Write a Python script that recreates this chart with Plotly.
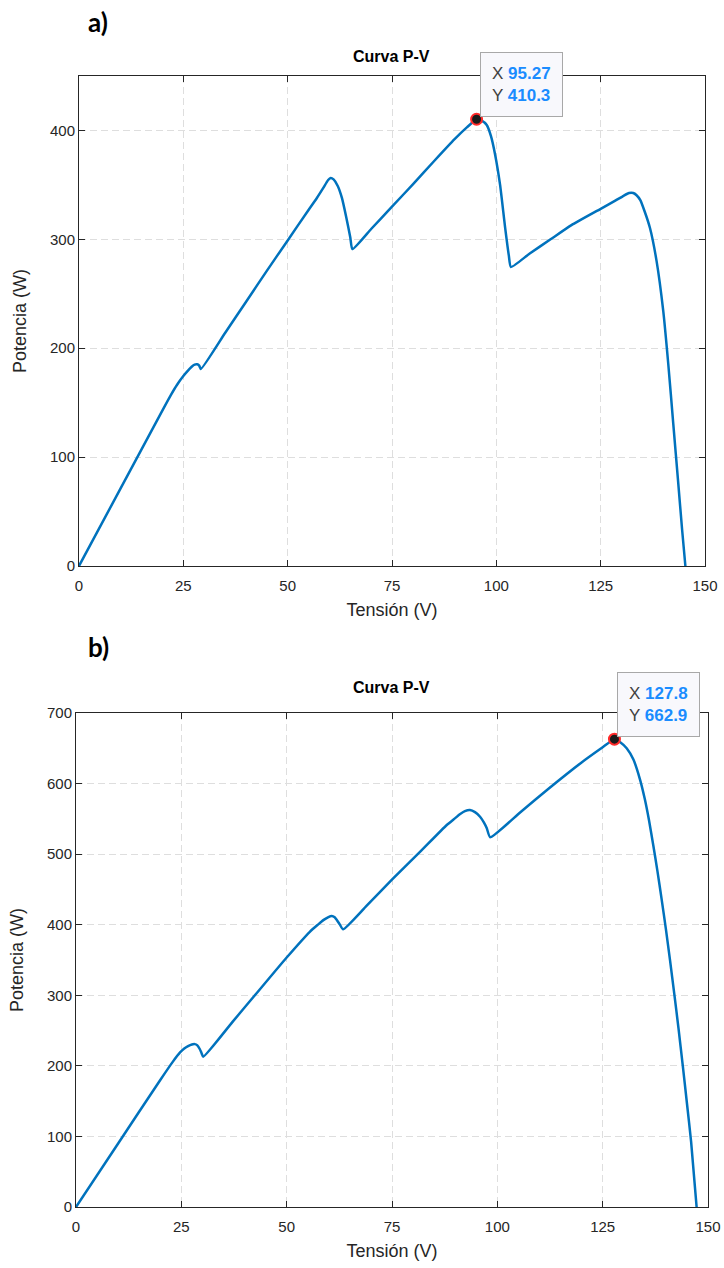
import plotly.graph_objects as go

# ---------------- data ----------------
volt_a = [0, 10, 20, 22, 23.5, 25, 26, 27, 27.7, 28.3, 28.8, 29.2,
          35, 40, 45, 50, 55, 57, 58.5, 59.7, 60.3, 61.0, 62.0, 63.0, 64.0, 65.0, 65.5,
          70, 75, 80, 85, 90, 93, 95.27,
          96.5, 97.7, 98.7, 99.7, 100.9, 102.1, 103.0, 103.5,
          108, 113, 118, 125, 128.5, 130.5, 131.8, 132.8, 133.6, 134.5, 135.5, 136.8,
          138.4, 140.0, 141.2, 142.4, 143.6, 144.5, 145.3]
pow_a = [0, 71.5, 143, 157, 166.5, 174.5, 179, 183, 185, 185.3, 184, 181,
         214, 242.5, 271, 299, 327, 338, 347, 354.5, 356.3, 355, 349, 338, 321, 302, 291,
         309.5, 330, 350.5, 371.5, 392, 403, 410.3,
         409, 405, 395, 378, 350, 311, 285, 274.6,
         287, 300, 313, 328, 335.5, 340, 342.5, 342.5, 340.5, 336, 326, 310.6,
         280, 234, 185.5, 130.6, 75.7, 34, 0]

volt_b = [0, 10, 20, 23, 24.7, 25.7, 26.6, 27.5, 28.2, 28.8, 29.4, 29.8, 30.2,
          37.3, 42.1, 50.0, 55.5, 57.5, 58.7, 59.8, 60.7, 61.4, 61.9, 62.6, 63.4,
          69.0, 75.1, 81.7, 88.0, 90.0, 91.1, 92.3, 93.5, 94.7, 95.9, 96.8, 97.5, 98.3,
          105.4, 112, 120, 125, 127.8, 129.1, 130.7, 132.3, 133.9, 135.0, 136.0, 137.0,
          138.0, 139.0, 140.0, 141.0, 142.0, 143.0, 144.0, 145.0, 146.0, 147.3]
pow_b = [0, 90, 180, 206, 219, 224.5, 228, 230.3, 230.8, 229, 223.5, 218, 213,
         263.4, 297.5, 353.6, 390, 400.5, 406.5, 410.5, 412.4, 410.5, 406.7, 400.5, 393.5,
         427, 464.5, 503.5, 541.3, 551, 556.5, 561, 562.6, 559.5, 553, 545, 536.6, 523.9,
         559, 592, 630, 651.5, 662.9, 659, 650, 634, 605, 578, 548, 513,
         476, 436, 394, 349, 302, 253, 201, 147, 92, 0]

tip_x = [95.27, 127.8]
tip_y = [410.3, 662.9]
tip_xlabel = ["95.27", "127.8"]
tip_ylabel = ["410.3", "662.9"]

x_ticks = [0, 25, 50, 75, 100, 125, 150]
y_ticks_a = [0, 100, 200, 300, 400]
y_ticks_b = [0, 100, 200, 300, 400, 500, 600, 700]

panel_labels = ["a)", "b)"]
title_text = "Curva P-V"
x_title = "Tensión (V)"
y_title = "Potencia (W)"

# ---------------- layout helpers ----------------
W, H = 724, 1268
FONT = "Liberation Sans Narrow, Arial Narrow, Liberation Sans, Arial, sans-serif"
INK = "#262626"
LINE = "#0072BD"


def fx(p):
    return p / W


def fy(p):
    return 1 - p / H


fig = go.Figure()

for vx, py_, xa, ya, i in [(volt_a, pow_a, "x", "y", 0), (volt_b, pow_b, "x2", "y2", 1)]:
    fig.add_trace(go.Scatter(x=vx, y=py_, mode="lines",
                             line=dict(color=LINE, width=2.5, shape="spline", smoothing=0.5),
                             xaxis=xa, yaxis=ya, hoverinfo="skip"))
    fig.add_trace(go.Scatter(x=[tip_x[i]], y=[tip_y[i]], mode="markers",
                             marker=dict(size=11, color="#1a1a1a",
                                         line=dict(color="#ff2a2a", width=2)),
                             xaxis=xa, yaxis=ya, hoverinfo="skip"))


def axis_style(**kw):
    d = dict(showline=True, linecolor=INK, linewidth=1, mirror="ticks",
             ticks="inside", ticklen=6, tickcolor=INK, tickwidth=1,
             showgrid=True, gridcolor="#dedede", griddash="7px,4px", gridwidth=1,
             zeroline=False, automargin=False,
             tickfont=dict(family=FONT, size=15, color=INK),
             title_font=dict(family=FONT, size=18, color=INK))
    d.update(kw)
    return d


fig.update_layout(
    width=W, height=H,
    margin=dict(l=0, r=0, t=0, b=0),
    paper_bgcolor="white", plot_bgcolor="white",
    showlegend=False,
    xaxis=axis_style(domain=[fx(79), fx(705)], range=[0, 150], tickvals=x_ticks,
                     anchor="y", ticklabelstandoff=6, title=dict(text=x_title, standoff=10)),
    yaxis=axis_style(domain=[fy(566), fy(76)], range=[0, 450], tickvals=y_ticks_a,
                     anchor="x", title=dict(text=y_title, standoff=18)),
    xaxis2=axis_style(domain=[fx(76), fx(708)], range=[0, 150], tickvals=x_ticks,
                      anchor="y2", ticklabelstandoff=6, title=dict(text=x_title, standoff=10)),
    yaxis2=axis_style(domain=[fy(1207), fy(713)], range=[0, 700], tickvals=y_ticks_b,
                      anchor="x2", title=dict(text=y_title, standoff=18)),
)

annotations = []
# panel labels
for lab, ypx in zip(panel_labels, [22, 647]):
    annotations.append(dict(text="<b>" + lab + "</b>", x=fx(86), y=fy(ypx),
                            xref="paper", yref="paper", xanchor="left", yanchor="middle",
                            showarrow=False,
                            font=dict(family="Lato, Liberation Sans, sans-serif", size=26, color="black")))
# titles
for xc, ypx in zip([(79 + 705) / 2, (76 + 708) / 2], [57, 687]):
    annotations.append(dict(text="<b>" + title_text + "</b>", x=fx(xc), y=fy(ypx),
                            xref="paper", yref="paper", xanchor="center", yanchor="middle",
                            showarrow=False, font=dict(family=FONT, size=16, color="black")))
# data tips
for i, (xr, yr) in enumerate([("x", "y"), ("x2", "y2")]):
    txt = ("X <b><span style='color:#1a8cff'>" + tip_xlabel[i] + "</span></b><br>"
           "Y <b><span style='color:#1a8cff'>" + tip_ylabel[i] + "</span></b>")
    annotations.append(dict(text=txt, x=tip_x[i], y=tip_y[i], xref=xr, yref=yr,
                            xanchor="left", yanchor="bottom", xshift=3, yshift=2,
                            showarrow=False, align="left",
                            bgcolor="#f8f8fc", bordercolor="#a8a8a8", borderwidth=1,
                            borderpad=11,
                            font=dict(family=FONT, size=17, color="#404040")))
fig.update_layout(annotations=annotations)

fig.write_html("out.html")
